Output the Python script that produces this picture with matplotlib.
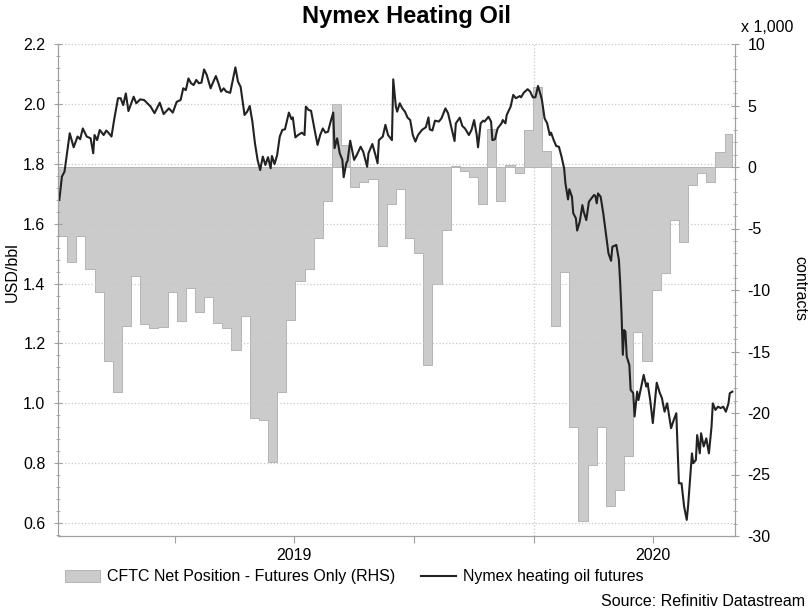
import numpy as np
import pandas as pd
import matplotlib
matplotlib.use('Agg')
import matplotlib.pyplot as plt
from matplotlib.ticker import MultipleLocator, FormatStrFormatter
from matplotlib.patches import Patch
from matplotlib.lines import Line2D

plt.rcParams['font.family'] = ['Liberation Sans', 'DejaVu Sans']
plt.rcParams['axes.unicode_minus'] = False

start = pd.Timestamp('2019-01-01')

# CFTC net position, futures only, thousand contracts (weekly, Tuesdays from 2019-01-01)
cftc_net = [-5.6, -7.7, -5.6, -8.3, -10.2, -15.8, -18.3, -12.9, -8.9, -12.8,
            -13.1, -13.0, -10.2, -12.5, -9.8, -11.8, -10.6, -12.7, -13.1, -14.9,
            -12.1, -20.4, -20.6, -24.0, -18.3, -12.4, -9.3, -8.3, -5.8, -2.8,
            5.1, 1.8, -1.6, -1.2, -1.0, -6.4, -3.0, -1.8, -5.8, -7.0,
            -16.1, -9.5, -5.1, 0.1, -0.3, -0.8, -3.0, 3.1, -2.8, 0.2,
            -0.5, 3.0, 6.5, 1.3, -12.9, -8.5, -21.1, -28.8, -24.2, -21.1,
            -27.6, -26.3, -23.5, -13.4, -15.8, -10.0, -8.6, -4.3, -6.1, -1.5,
            -0.5, -1.2, 1.2, 2.7]
cftc_dates = pd.date_range(start, periods=len(cftc_net), freq='7D')

# Nymex heating oil futures, USD/bbl (days counted from 2019-01-01)
price_day = [1, 3, 5, 9, 12, 15, 17, 19, 22, 25, 27, 28, 30, 32, 35, 37, 39, 41, 43, 46,
             48, 50, 52, 54, 58, 60, 63, 66, 71, 74, 78, 81, 85, 88, 91, 94,
             96, 98, 100, 102, 104, 106, 108, 110, 112, 114, 117, 118, 121, 123, 125, 127, 129,
             132, 134, 136, 138, 140, 143, 145, 147, 149, 151, 153, 155, 157, 159, 161, 163, 164,
             166, 168, 170, 172, 174, 177, 179, 180, 182,
             184, 187, 189, 190, 192, 194, 197, 199, 201, 203, 205, 207, 209, 211, 212, 214, 216,
             218, 219, 221, 222, 224, 227, 229, 232, 234, 237, 238, 241, 243, 245, 246, 249, 251,
             253, 256, 257, 259, 260, 262, 264, 266, 268, 270, 272, 274,
             276, 279, 282, 284, 285, 287, 289, 292, 294, 297, 299, 302, 304, 305, 308, 310, 312,
             315, 317, 319, 321, 322, 324, 326, 327, 330, 332, 333, 335, 337, 340, 341, 343, 344,
             347, 349, 351, 354, 355, 357, 360, 362, 364, 366,
             368, 370, 371, 373, 375, 377, 378, 380, 382, 384, 386, 388, 389, 391, 392, 394, 395,
             397, 398, 400, 402, 403, 405, 407, 409, 411, 412, 413, 414, 416, 418, 420, 422, 424,
             425, 428, 430, 431, 432, 433, 434, 435, 436, 438, 439, 441, 442, 444, 445,
             449, 451, 452, 454, 456, 459, 461, 463, 465, 467, 470, 472, 474, 476, 478, 480, 482,
             483, 486, 487, 489, 490, 492, 493, 495, 497, 499, 501, 502, 504, 506, 508, 510, 512,
             514, 515, 517]
price_usd = [1.679, 1.757, 1.774, 1.902, 1.855, 1.891, 1.882, 1.918, 1.891, 1.885,
             1.835, 1.896, 1.879, 1.913, 1.896, 1.911, 1.902, 1.891, 1.946, 2.019,
             2.019, 1.996, 2.035, 1.976, 2.024, 2.002, 2.015, 2.013, 1.991, 1.969,
             2.004, 1.966, 1.985, 1.971, 2.007, 2.013,
             2.052, 2.046, 2.085, 2.069, 2.063, 2.080, 2.069, 2.071, 2.115, 2.097,
             2.052, 2.063, 2.093, 2.069, 2.041, 2.052, 2.041, 2.037, 2.080, 2.122,
             2.074, 2.057, 1.963, 1.974, 1.993, 1.941, 1.868, 1.813, 1.779, 1.824,
             1.796, 1.822, 1.785, 1.826, 1.799, 1.829, 1.891, 1.913, 1.915, 1.971,
             1.949, 1.955, 1.888,
             1.896, 1.904, 1.896, 1.991, 1.980, 1.977, 1.907, 1.863, 1.896, 1.918,
             1.904, 1.907, 1.941, 1.971, 1.852, 1.885, 1.835, 1.813, 1.755, 1.802,
             1.810, 1.877, 1.813, 1.829, 1.857, 1.840, 1.790, 1.835, 1.866, 1.835,
             1.802, 1.879, 1.891, 1.930, 1.896, 1.879, 2.082, 1.991, 1.974, 2.002,
             1.985, 1.974, 1.954, 1.946, 1.896, 1.874,
             1.896, 1.913, 1.922, 1.955, 1.915, 1.911, 1.944, 1.941, 1.952, 1.985,
             1.969, 1.913, 1.876, 1.935, 1.954, 1.926, 1.918, 1.896, 1.913, 1.946,
             1.896, 1.855, 1.935, 1.944, 1.941, 1.957, 1.941, 1.879, 1.882, 1.918,
             1.935, 1.946, 1.935, 1.963, 1.991, 2.030, 2.019, 2.026, 2.022, 2.037,
             2.049, 2.041, 2.022, 2.022,
             2.060, 2.030, 2.013, 1.952, 1.935, 1.896, 1.904, 1.879, 1.859, 1.857,
             1.824, 1.785, 1.735, 1.681, 1.715, 1.690, 1.635, 1.618, 1.577, 1.607,
             1.662, 1.640, 1.612, 1.673, 1.685, 1.696, 1.692, 1.668, 1.701, 1.690,
             1.635, 1.568, 1.501, 1.476, 1.523, 1.529, 1.479, 1.401, 1.300, 1.162,
             1.245, 1.239, 1.156, 1.128, 1.045, 1.034, 0.956, 1.039, 1.011,
             1.095, 1.056, 1.067, 1.011, 0.934, 1.069, 1.039, 1.017, 0.972, 1.000,
             0.917, 0.944, 0.967, 0.733, 0.733, 0.655, 0.611, 0.655, 0.833, 0.800,
             0.811, 0.894, 0.833, 0.900, 0.856, 0.883, 0.833, 0.922, 1.000, 0.978,
             0.989, 0.984, 0.989, 0.972, 1.000, 1.034, 1.039]
price_dates = start + pd.to_timedelta(price_day, unit='D')

fill_col = '#cbcbcb'
edge_col = '#b4b4b4'
line_col = '#222222'
axis_col = '#a0a0a0'
grid_col = '#c8c8c8'

fig = plt.figure(figsize=(8.12, 6.09), dpi=100)
ax_c = fig.add_axes([58 / 812, 1 - 536 / 609, 677 / 812, 492 / 609])
ax_p = ax_c.twinx()

# CFTC area (right axis), drawn as weekly steps
x_fill = list(cftc_dates) + [cftc_dates[-1] + pd.Timedelta(days=6)]
y_fill = cftc_net + [cftc_net[-1]]
ax_c.fill_between(x_fill, y_fill, 0, step='post', facecolor=fill_col,
                  edgecolor=edge_col, linewidth=0.7)
ax_c.axvline(pd.Timestamp('2020-01-01'), color=grid_col, linestyle=':', linewidth=0.9, zorder=0)

# price line (left axis)
ax_p.plot(price_dates, price_usd, color=line_col, linewidth=1.5)

ax_c.set_xlim(start, pd.Timestamp('2020-06-03'))
ax_c.set_ylim(-30, 10)
ax_p.set_ylim(0.557, 2.2)

ax_c.yaxis.tick_right()
ax_p.yaxis.tick_left()
ax_c.yaxis.set_major_locator(MultipleLocator(5))
ax_c.yaxis.set_minor_locator(MultipleLocator(1))
ax_p.yaxis.set_major_locator(MultipleLocator(0.2))
ax_p.yaxis.set_minor_locator(MultipleLocator(0.04))
ax_p.yaxis.set_major_formatter(FormatStrFormatter('%.1f'))
ax_p.grid(axis='y', color=grid_col, linestyle=':', linewidth=0.9)

# x axis: quarterly ticks, year labels placed on their own (minor) ticks
quarters = pd.to_datetime(['2019-04-01', '2019-07-01', '2019-10-01', '2020-01-01', '2020-04-01'])
ax_c.xaxis.remove_overlapping_locs = False
ax_c.set_xticks(quarters)
ax_c.set_xticklabels([])
ax_c.set_xticks(pd.to_datetime(['2019-07-01', '2020-04-01']), minor=True)
ax_c.set_xticklabels(['2019', '2020'], minor=True)
ax_c.tick_params(axis='x', which='major', direction='out', length=5, color=axis_col)
ax_c.tick_params(axis='x', which='minor', length=0, pad=9, labelsize=11.5)
ax_p.tick_params(axis='x', which='both', length=0, labelbottom=False)

ax_c.tick_params(axis='y', which='major', direction='inout', length=6, color=axis_col,
                 labelsize=11.5, pad=6)
ax_c.tick_params(axis='y', which='minor', direction='inout', length=3, color=axis_col)
ax_p.tick_params(axis='y', which='major', direction='inout', length=6, color=axis_col,
                 labelsize=11.5, pad=6)
ax_p.tick_params(axis='y', which='minor', direction='inout', length=3, color=axis_col)

for a in (ax_c, ax_p):
    a.spines['top'].set_visible(False)
    for s in ('left', 'right', 'bottom'):
        a.spines[s].set_color(axis_col)

fig.text(0.5, 1 - 17 / 609, 'Nymex Heating Oil', ha='center', va='center',
         fontsize=17, fontweight='bold')
fig.text(741 / 812, 1 - 27 / 609, 'x 1,000', ha='left', va='center', fontsize=11.5)
fig.text(12 / 812, 1 - 272 / 609, 'USD/bbl', rotation=90, ha='center', va='center', fontsize=11.5)
fig.text(800 / 812, 1 - 289 / 609, 'contracts', rotation=270, ha='center', va='center', fontsize=11.5)
fig.text(805 / 812, 1 - 601 / 609, 'Source: Refinitiv Datastream', ha='right', va='center',
         fontsize=11.5)

handles = [Patch(facecolor=fill_col, edgecolor=edge_col, linewidth=0.7),
           Line2D([], [], color=line_col, linewidth=1.5)]
labels = ['CFTC Net Position - Futures Only (RHS)', 'Nymex heating oil futures']
fig.legend(handles, labels, loc='center left', bbox_to_anchor=(65 / 812, 1 - 577 / 609),
           ncol=2, frameon=False, fontsize=11.5, handlelength=2.2, handletextpad=0.45,
           columnspacing=1.6, borderpad=0, borderaxespad=0)

fig.savefig('out.png', dpi=100)
